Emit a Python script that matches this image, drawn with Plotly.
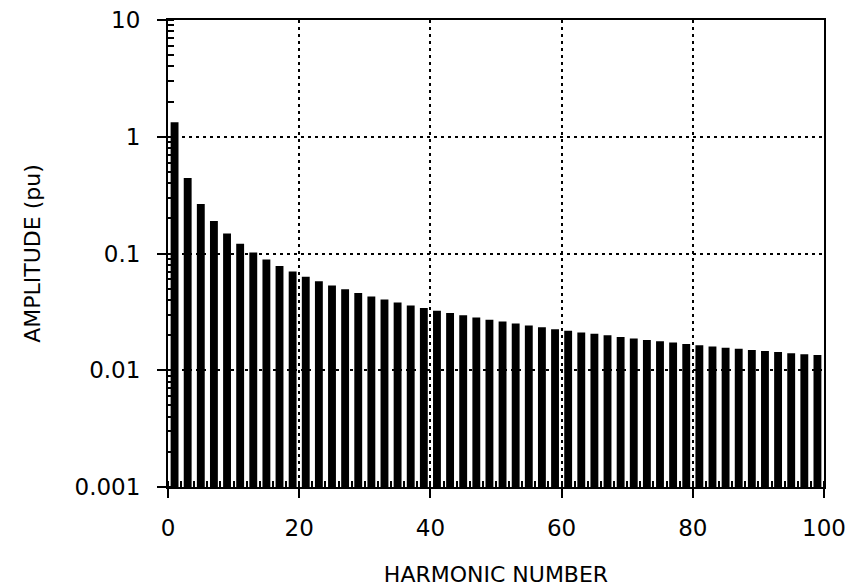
import plotly.graph_objects as go

# Odd harmonic orders and their amplitudes (per unit)
harmonic_order = [1, 3, 5, 7, 9, 11, 13, 15, 17, 19,
                  21, 23, 25, 27, 29, 31, 33, 35, 37, 39,
                  41, 43, 45, 47, 49, 51, 53, 55, 57, 59,
                  61, 63, 65, 67, 69, 71, 73, 75, 77, 79,
                  81, 83, 85, 87, 89, 91, 93, 95, 97, 99]
amplitude_pu = [1.33, 0.443, 0.266, 0.190, 0.148, 0.121, 0.102, 0.0887, 0.0782, 0.0700,
                0.0633, 0.0578, 0.0532, 0.0493, 0.0459, 0.0429, 0.0403, 0.0380, 0.0359, 0.0341,
                0.0324, 0.0309, 0.0296, 0.0283, 0.0271, 0.0261, 0.0251, 0.0242, 0.0233, 0.0225,
                0.0218, 0.0211, 0.0205, 0.0199, 0.0193, 0.0187, 0.0182, 0.0177, 0.0173, 0.0168,
                0.0164, 0.0160, 0.0156, 0.0153, 0.0149, 0.0146, 0.0143, 0.0140, 0.0137, 0.0135]

x_tick_vals = [0, 20, 40, 60, 80, 100]
x_tick_text = ["0", "20", "40", "60", "80", "100"]
y_tick_vals = [0.001, 0.01, 0.1, 1, 10]
y_tick_text = ["0.001", "0.01", "0.1", "1", "10"]

FONT = "DejaVu Sans, Liberation Sans, sans-serif"

fig = go.Figure()
fig.add_trace(go.Bar(
    x=harmonic_order,
    y=amplitude_pu,
    width=1.2,
    marker=dict(color="black", line=dict(width=0)),
))

fig.update_layout(
    width=854,
    height=587,
    margin=dict(l=168, r=30, t=20, b=100),
    paper_bgcolor="white",
    plot_bgcolor="white",
    showlegend=False,
    font=dict(family=FONT, color="black", size=22),
)

common_axis = dict(
    tickmode="array",
    automargin=False,
    ticks="outside",
    ticklen=9,
    tickwidth=2,
    tickcolor="black",
    tickfont=dict(size=23, family=FONT, color="black"),
    showline=True,
    linecolor="black",
    linewidth=2,
    mirror=True,
    showgrid=True,
    gridcolor="black",
    gridwidth=1.5,
    griddash="3px,4px",
    zeroline=False,
)

fig.update_xaxes(
    range=[0, 100],
    tickvals=x_tick_vals,
    ticktext=x_tick_text,
    ticklabelstandoff=10,
    minor=dict(ticks="inside", dtick=2, tick0=0, ticklen=6, tickwidth=1.5,
               tickcolor="black", showgrid=False),
    title=dict(text="HARMONIC NUMBER", font=dict(size=22, family=FONT), standoff=28),
    **common_axis,
)

fig.update_yaxes(
    type="log",
    range=[-3, 1],
    tickvals=y_tick_vals,
    ticktext=y_tick_text,
    ticklabelstandoff=12,
    minor=dict(ticks="inside", dtick="D1", ticklen=6, tickwidth=1.5,
               tickcolor="black", showgrid=False),
    title=dict(text="AMPLITUDE (pu)", font=dict(size=22, family=FONT), standoff=28),
    **common_axis,
)

fig.write_html("out.html")
